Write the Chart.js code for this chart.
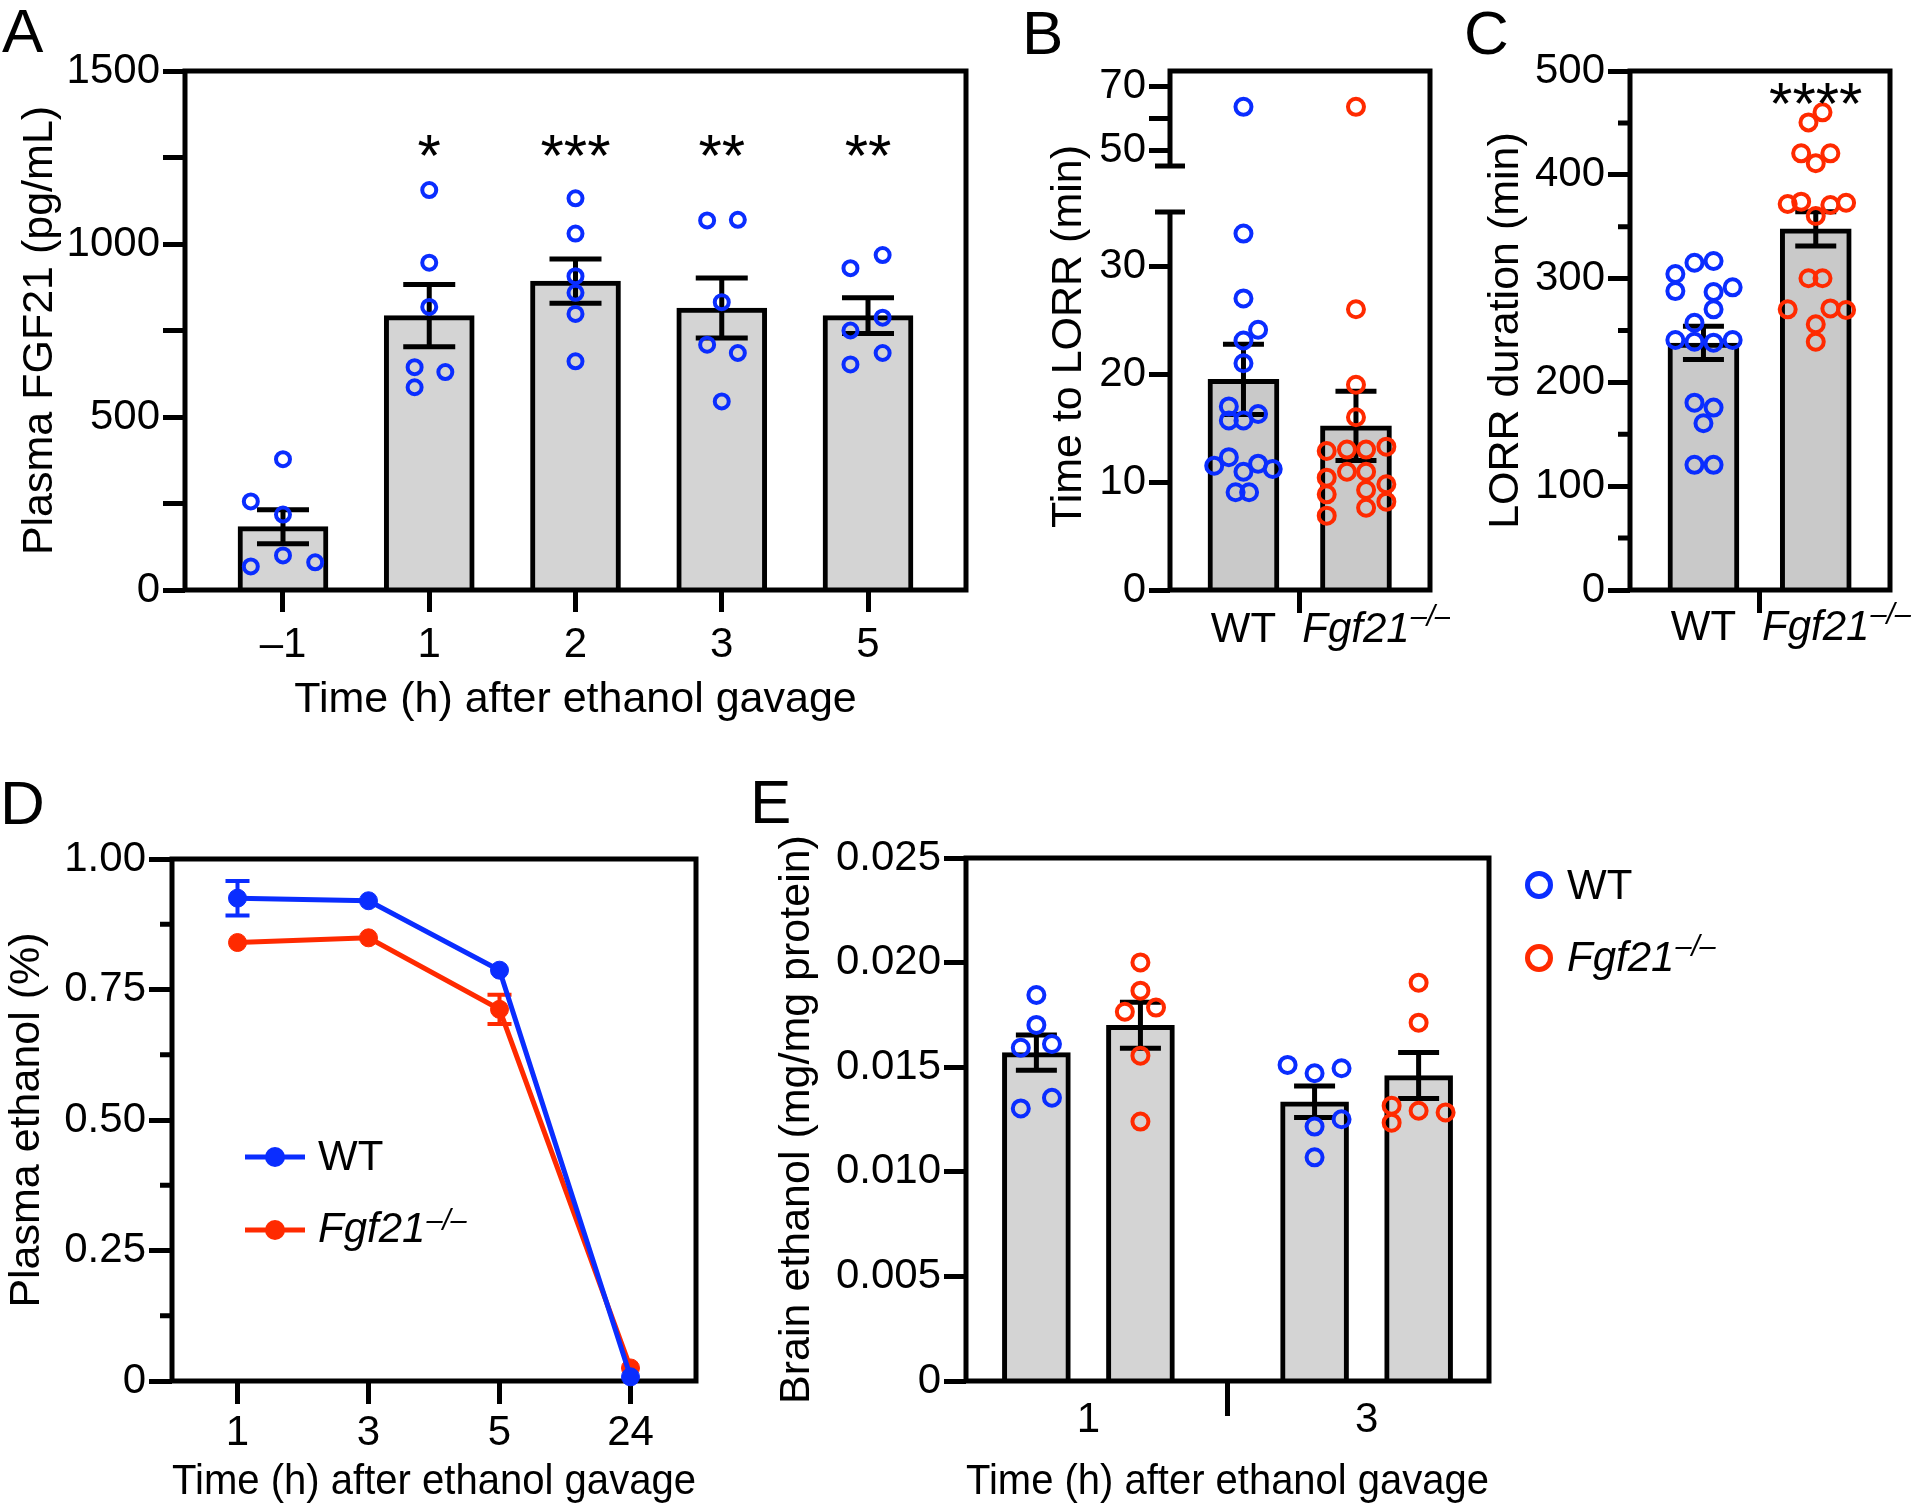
<!DOCTYPE html>
<html>
<head>
<meta charset="utf-8">
<title>FGF21 and ethanol</title>
<script src="https://cdn.jsdelivr.net/npm/chart.js@4.4.1/dist/chart.umd.min.js"></script>
<style>
  html, body { margin: 0; padding: 0; background: #fff; }
  body { position: relative; width: 1920px; height: 1508px; overflow: hidden; }
  canvas { position: absolute; }
  .letter { position: absolute; font: 62px "Liberation Sans", Arial, sans-serif; line-height: 1; color: #000; }
</style>
</head>
<body>
<div class="letter" style="left:2px;top:0px">A</div>
<div class="letter" style="left:1022px;top:2px">B</div>
<div class="letter" style="left:1464px;top:2px">C</div>
<div class="letter" style="left:0px;top:772px">D</div>
<div class="letter" style="left:750px;top:771px">E</div>

<canvas id="chartA" width="990" height="726" style="left:0;top:0"></canvas>
<canvas id="chartB" width="420" height="680" style="left:1030px;top:0"></canvas>
<canvas id="chartC" width="450" height="680" style="left:1470px;top:0"></canvas>
<canvas id="chartD" width="740" height="748" style="left:0;top:760px"></canvas>
<canvas id="chartE" width="1140" height="748" style="left:760px;top:760px"></canvas>

<script>
// === DATA ===
// A: plasma FGF21 (pg/mL) before / after gavage
const aLabels = ['\u20131', '1', '2', '3', '5'];
const aTicks = [0, 250, 500, 750, 1000, 1250, 1500];
const aMean = [183, 793, 893, 815, 793];
const aSem = [49, 90, 64, 87, 52];
const aValues = [
  [378, 256, 218, 100, 68, 80],
  [1156, 946, 818, 644, 586, 630],
  [1132, 1030, 907, 859, 798, 661],
  [1068, 1070, 832, 709, 685, 545],
  [930, 968, 750, 787, 652, 685]
];
const aJitter = [
  [0, -0.22, 0, 0, -0.22, 0.22],
  [0, 0, 0, -0.1, -0.1, 0.11],
  [0, 0, 0, 0, 0, 0],
  [-0.1, 0.11, 0, -0.1, 0.11, 0],
  [-0.12, 0.1, -0.12, 0.1, -0.12, 0.1]
];
const aStars = ['', '*', '***', '**', '**'];
const aStarLevel = 1196;

// B: time to LORR (min), broken axis
const bLowTicks = [0, 10, 20, 30];
const bHighTicks = [50, 60, 70];
const bBreak = [35, 45];
const bMean = [19.5, 15.2];
const bSem = [3.25, 3.2];
const bWT = [63.7, 33.0, 27.0, 24.1, 23.1, 21.0, 17.0, 15.7, 15.7, 16.3, 11.5, 12.3, 10.95, 11.7, 11.2, 9.05, 9.05];
const bWTJitter = [0, 0, 0, 0.13, 0, 0, -0.13, -0.13, 0, 0.13, -0.26, -0.13, 0, 0.13, 0.26, -0.07, 0.05];
const bKO = [63.7, 26.0, 19.0, 16.0, 12.87, 13.0, 13.0, 13.27, 10.95, 10.95, 10.4, 9.26, 9.79, 8.86, 8.18, 7.62, 6.88];
const bKOJitter = [0, 0, 0, 0, -0.26, -0.08, 0.09, 0.27, -0.08, 0.09, -0.26, 0.09, 0.27, -0.26, 0.27, 0.09, -0.26];

// C: LORR duration (min)
const cTicks = [0, 100, 200, 300, 400, 500];
const cMinor = [50, 150, 250, 350, 450];
const cMean = [238, 348];
const cSem = [16, 16.5];
const cWT = [304.4, 315.3, 317.0, 288.0, 287.1, 291.6, 270.4, 257.5, 240.8, 239.2, 238.3, 240.8, 180.5, 175.7, 160.6, 120.6, 120.6];
const cWTJitter = [-0.25, -0.08, 0.09, -0.25, 0.09, 0.26, 0.09, -0.08, -0.25, -0.08, 0.09, 0.26, -0.08, 0.09, 0, -0.08, 0.09];
const cKO = [460.2, 450.5, 420.7, 420.7, 411.1, 371.9, 374.1, 370.9, 373.1, 360.3, 300.3, 300.3, 270.4, 271.3, 269.7, 256, 239.2];
const cKOJitter = [0.06, -0.065, -0.13, 0.13, 0, -0.25, -0.13, 0.13, 0.27, 0, -0.065, 0.06, -0.25, 0.13, 0.27, 0, 0];
const cStars = ['', '****'];
const cStarLevel = 449;

// D: plasma ethanol (%)
const dLabels = ['1', '3', '5', '24'];
const dTicks = [0, 0.25, 0.5, 0.75, 1];
const dMinor = [0.125, 0.375, 0.625, 0.875];
const dWT = [0.925, 0.920, 0.787, 0.008];
const dWTSem = [0.033, 0, 0, 0];
const dKO = [0.840, 0.849, 0.712, 0.025];
const dKOSem = [0, 0, 0.028, 0];

// E: brain ethanol (mg/mg protein)
const eGroups = ['1', '3'];
const eTicks = [0, 0.005, 0.01, 0.015, 0.02, 0.025];
const eWTMean = [0.0157, 0.01335];
const eWTSem = [0.00084, 0.00075];
const eKOMean = [0.0170, 0.0146];
const eKOSem = [0.0011, 0.0011];
const eWT = [
  [0.01845, 0.01702, 0.01593, 0.01611, 0.01354, 0.01303],
  [0.01511, 0.01471, 0.01495, 0.01251, 0.01216, 0.01069]
];
const eWTJitter = [[0, 0, -0.056, 0.056, 0.056, -0.056], [-0.097, 0, 0.097, 0.097, 0, 0]];
const eKO = [
  [0.02001, 0.01866, 0.01765, 0.01785, 0.01555, 0.01240],
  [0.01904, 0.01713, 0.01316, 0.01292, 0.01284, 0.01235]
];
const eKOJitter = [[0, 0, -0.056, 0.056, 0, 0], [0, 0, -0.097, 0, 0.097, -0.097]];
const eDodge = 0.187;

// === STYLE ===
const FONT = '"Liberation Sans", Arial, Helvetica, sans-serif';
const BLUE = '#0a2dff';
const RED = '#ff2a00';
const BAR_LIGHT = '#d4d4d4';
const BAR_MID = '#c9c9c9';
const CLEAR = 'rgba(0,0,0,0)';
const TIME_TITLE = 'Time (h) after ethanol gavage';

Chart.defaults.font.family = FONT;
Chart.defaults.font.size = 42;
Chart.defaults.color = '#000';

// === HELPERS ===
function baseOptions(padding, scales) {
  return {
    responsive: false,
    animation: false,
    events: [],
    layout: { padding: padding },
    plugins: { legend: { display: false }, tooltip: { enabled: false } },
    scales: scales
  };
}

function axisTitle(text, padding) {
  return { display: true, text: text, font: { size: 43 }, padding: padding };
}

function yAxis(o) {
  return {
    type: 'linear', position: 'left', min: o.min, max: o.max,
    border: { display: false },
    grid: { drawOnChartArea: false, tickLength: o.tick, tickWidth: 5, tickColor: '#000' },
    ticks: { padding: 3, autoSkip: false, callback: o.fmt },
    title: o.title ? axisTitle(o.title, { top: o.titlePad, bottom: 0 }) : { display: false },
    afterBuildTicks: s => { s.ticks = o.ticks.map(v => ({ value: v })); },
    afterFit: s => { s.width = o.width; }
  };
}

function xAxis(o) {
  return {
    type: 'linear', position: 'bottom', min: o.min, max: o.max, offset: false,
    border: { display: false },
    grid: { drawOnChartArea: false, offset: false, tickLength: o.tick, tickWidth: 5, tickColor: o.tickColor || '#000' },
    ticks: { padding: o.pad, autoSkip: false, maxRotation: 0, minRotation: 0, callback: o.fmt },
    title: o.title ? axisTitle(o.title, { top: 0, bottom: 0 }) : { display: false },
    afterBuildTicks: s => { s.ticks = o.ticks.map(v => ({ value: v })); },
    afterFit: s => { s.height = o.height; }
  };
}

// only the tick between the two groups is drawn
const middleTick = c => (c.tick && c.tick.value === 0.5 ? '#000' : CLEAR);

function spread(values, jitter, centre) {
  return values.map((v, k) => ({ x: centre + jitter[k], y: v }));
}

function pointSet(label, points, color, radius, axis) {
  return {
    type: 'scatter', label: label, data: points, yAxisID: axis || 'y', order: 1, clip: false,
    showLine: false, pointStyle: 'circle', pointRadius: radius, pointBorderWidth: 4,
    pointBorderColor: color, pointBackgroundColor: CLEAR
  };
}

function barSet(xs, means, sems, fill, width) {
  return {
    type: 'bar', data: xs.map((x, i) => ({ x: x, y: means[i] })), sem: sems, yAxisID: 'y', order: 2,
    grouped: false, barThickness: width, backgroundColor: fill, borderColor: '#000', borderWidth: 5
  };
}

function lineSet(label, values, sems, color) {
  return {
    label: label, data: values, sem: sems, borderColor: color, backgroundColor: color,
    borderWidth: 5, tension: 0, clip: false,
    pointRadius: 9, pointBorderWidth: 1, pointBackgroundColor: color, pointBorderColor: color
  };
}

function drawErrors(chart, index, color, cap, width) {
  const ds = chart.data.datasets[index];
  const meta = chart.getDatasetMeta(index);
  const y = chart.scales[meta.yAxisID];
  const ctx = chart.ctx;
  ctx.save();
  ctx.strokeStyle = color;
  ctx.lineWidth = width;
  meta.data.forEach((el, j) => {
    const sem = ds.sem[j];
    if (!sem) return;
    const raw = ds.data[j];
    const mean = typeof raw === 'object' ? raw.y : raw;
    const top = y.getPixelForValue(mean + sem);
    const bottom = y.getPixelForValue(mean - sem);
    ctx.beginPath();
    ctx.moveTo(el.x, top); ctx.lineTo(el.x, bottom);
    ctx.moveTo(el.x - cap / 2, top); ctx.lineTo(el.x + cap / 2, top);
    ctx.moveTo(el.x - cap / 2, bottom); ctx.lineTo(el.x + cap / 2, bottom);
    ctx.stroke();
  });
  ctx.restore();
}

function barErrors(cap) {
  return {
    id: 'barErrors',
    afterDatasetDraw(chart, args) {
      if (chart.data.datasets[args.index].type === 'bar') drawErrors(chart, args.index, '#000', cap, 5);
    }
  };
}

function drawFrame(chart) {
  const { ctx, chartArea: a } = chart;
  ctx.save();
  ctx.strokeStyle = '#000';
  ctx.lineWidth = 5;
  ctx.strokeRect(a.left, a.top, a.right - a.left, a.bottom - a.top);
  ctx.restore();
}

// frame with a gap in the left axis (panel B)
function drawBrokenFrame(chart) {
  const { ctx, chartArea: a } = chart;
  const low = chart.scales.y.getPixelForValue(bBreak[0]);
  const high = chart.scales.yTop.getPixelForValue(bBreak[1]);
  ctx.save();
  ctx.strokeStyle = '#000';
  ctx.lineWidth = 5;
  ctx.lineJoin = 'miter';
  ctx.beginPath();
  ctx.moveTo(a.left, high);
  ctx.lineTo(a.left, a.top);
  ctx.lineTo(a.right, a.top);
  ctx.lineTo(a.right, a.bottom);
  ctx.lineTo(a.left, a.bottom);
  ctx.lineTo(a.left, low);
  ctx.stroke();
  ctx.beginPath();
  [low, high].forEach(p => { ctx.moveTo(a.left - 15, p); ctx.lineTo(a.left + 15, p); });
  ctx.stroke();
  ctx.restore();
}

function drawMinorTicks(chart, values, len) {
  const { ctx, chartArea: a } = chart;
  const y = chart.scales.y;
  ctx.save();
  ctx.strokeStyle = '#000';
  ctx.lineWidth = 5;
  ctx.beginPath();
  values.forEach(v => { const p = y.getPixelForValue(v); ctx.moveTo(a.left - len, p); ctx.lineTo(a.left, p); });
  ctx.stroke();
  ctx.restore();
}

function drawStars(chart, marks, level) {
  const ctx = chart.ctx;
  const x = chart.scales.x, y = chart.scales.y;
  ctx.save();
  ctx.fillStyle = '#000';
  ctx.font = '60px ' + FONT;
  ctx.textAlign = 'center';
  ctx.textBaseline = 'alphabetic';
  marks.forEach((m, i) => { if (m) ctx.fillText(m, x.getPixelForValue(i), y.getPixelForValue(level)); });
  ctx.restore();
}

// italic gene name with a raised "–/–"
function drawFgf(ctx, x, yMid, size, align, raise) {
  ctx.save();
  ctx.fillStyle = '#000';
  ctx.textBaseline = 'middle';
  ctx.textAlign = 'left';
  ctx.font = 'italic ' + size + 'px ' + FONT;
  const w = ctx.measureText('Fgf21').width;
  const x0 = align === 'center' ? x - w / 2 : x;
  ctx.fillText('Fgf21', x0, yMid);
  ctx.font = 'italic ' + Math.round(size * 0.68) + 'px ' + FONT;
  ctx.fillText('\u2013/\u2013', x0 + w + 1, yMid - raise);
  ctx.restore();
}

function drawFgfTick(chart) {
  const s = chart.scales.x;
  const mid = s.top + s.options.grid.tickLength + s.options.ticks.padding + 42 * 0.6;
  drawFgf(chart.ctx, s.getPixelForValue(1), mid, 42, 'center', 12);
}

function drawText(ctx, text, x, y, size) {
  ctx.save();
  ctx.fillStyle = '#000';
  ctx.font = size + 'px ' + FONT;
  ctx.textAlign = 'left';
  ctx.textBaseline = 'middle';
  ctx.fillText(text, x, y);
  ctx.restore();
}

// === A ===
const aPoints = [];
aValues.forEach((vals, i) => aPoints.push(...spread(vals, aJitter[i], i)));

new Chart(document.getElementById('chartA'), {
  type: 'bar',
  data: {
    datasets: [
      pointSet('FGF21', aPoints, BLUE, 7),
      barSet(aLabels.map((_, i) => i), aMean, aSem, BAR_LIGHT, 90)
    ]
  },
  options: baseOptions({ top: 71, right: 24, left: 0, bottom: 0 }, {
    x: xAxis({ min: -0.67, max: 4.67, ticks: aLabels.map((_, i) => i), tick: 22, pad: 8, height: 136,
      fmt: v => aLabels[v], title: TIME_TITLE }),
    y: yAxis({ min: 0, max: 1500, ticks: aTicks, tick: 22, width: 185,
      fmt: v => (v % 500 === 0 ? String(v) : ''), title: 'Plasma FGF21 (pg/mL)', titlePad: 14 })
  }),
  plugins: [barErrors(52), {
    id: 'decorA',
    afterDatasetsDraw(chart) {
      drawFrame(chart);
      drawStars(chart, aStars, aStarLevel);
    }
  }]
});

// === B ===
const bSets = [];
[[bWT, bWTJitter, 0, BLUE], [bKO, bKOJitter, 1, RED]].forEach(([vals, jit, centre, color]) => {
  const pts = spread(vals, jit, centre);
  bSets.push(pointSet('', pts.filter(p => p.y < bBreak[0]), color, 8, 'y'));
  bSets.push(pointSet('', pts.filter(p => p.y > bBreak[1]), color, 8, 'yTop'));
});
bSets.push(barSet([0, 1], bMean, bSem, BAR_MID, 71));

const bLow = yAxis({ min: 0, max: 35, ticks: bLowTicks, tick: 21, width: 140, fmt: v => String(v) });
Object.assign(bLow, { stack: 'b', stackWeight: 378, weight: 0 });
const bHigh = yAxis({ min: 30.5, max: 75, ticks: bHighTicks, tick: 21, width: 140, fmt: v => (v === 60 ? '' : String(v)) });
Object.assign(bHigh, { stack: 'b', stackWeight: 141, weight: 1 });

new Chart(document.getElementById('chartB'), {
  type: 'bar',
  data: { datasets: bSets },
  options: baseOptions({ top: 71, right: 20, left: 0, bottom: 0 }, {
    x: xAxis({ min: -0.653, max: 1.658, ticks: [0, 0.5, 1], tick: 23, pad: -8, height: 90,
      fmt: v => (v === 0 ? 'WT' : ''), tickColor: middleTick }),
    y: bLow,
    yTop: bHigh
  }),
  plugins: [barErrors(41), {
    id: 'decorB',
    afterDatasetsDraw(chart) { drawBrokenFrame(chart); },
    afterDraw(chart) {
      const a = chart.chartArea, ctx = chart.ctx;
      drawFgfTick(chart);
      ctx.save();
      ctx.translate(a.left - 101, (a.top + a.bottom) / 2 + 6);
      ctx.rotate(-Math.PI / 2);
      ctx.font = '43px ' + FONT;
      ctx.fillStyle = '#000';
      ctx.textAlign = 'center';
      ctx.textBaseline = 'middle';
      ctx.fillText('Time to LORR (min)', 0, 0);
      ctx.restore();
    }
  }]
});

// === C ===
new Chart(document.getElementById('chartC'), {
  type: 'bar',
  data: {
    datasets: [
      pointSet('WT', spread(cWT, cWTJitter, 0), BLUE, 8),
      pointSet('Fgf21', spread(cKO, cKOJitter, 1), RED, 8),
      barSet([0, 1], cMean, cSem, BAR_MID, 71)
    ]
  },
  options: baseOptions({ top: 71, right: 30, left: 0, bottom: 0 }, {
    x: xAxis({ min: -0.654, max: 1.661, ticks: [0, 0.5, 1], tick: 23, pad: -10, height: 90,
      fmt: v => (v === 0 ? 'WT' : ''), tickColor: middleTick }),
    y: yAxis({ min: 0, max: 500, ticks: cTicks, tick: 22, width: 160, fmt: v => String(v),
      title: 'LORR duration (min)', titlePad: 10 })
  }),
  plugins: [barErrors(41), {
    id: 'decorC',
    afterDatasetsDraw(chart) {
      drawFrame(chart);
      drawMinorTicks(chart, cMinor, 12);
      drawStars(chart, cStars, cStarLevel);
    },
    afterDraw(chart) { drawFgfTick(chart); }
  }]
});

// === D ===
new Chart(document.getElementById('chartD'), {
  type: 'line',
  data: {
    labels: dLabels,
    datasets: [lineSet('WT', dWT, dWTSem, BLUE), lineSet('Fgf21', dKO, dKOSem, RED)]
  },
  options: baseOptions({ top: 99, right: 44, left: 0, bottom: 0 }, {
    x: {
      type: 'category', offset: true,
      border: { display: false },
      grid: { drawOnChartArea: false, offset: false, tickLength: 23, tickWidth: 5, tickColor: '#000' },
      ticks: { padding: 4, autoSkip: false, maxRotation: 0, minRotation: 0 },
      title: axisTitle(TIME_TITLE, { top: 0, bottom: 0 }),
      afterFit: s => { s.height = 127; }
    },
    y: yAxis({ min: 0, max: 1, ticks: dTicks, tick: 23, width: 172,
      fmt: v => (v === 0 ? '0' : v.toFixed(2)), title: 'Plasma ethanol (%)', titlePad: 1 })
  }),
  plugins: [{
    id: 'decorD',
    beforeDatasetsDraw(chart) {
      drawFrame(chart);
      drawMinorTicks(chart, dMinor, 12);
      chart.data.datasets.forEach((ds, i) => drawErrors(chart, i, ds.borderColor, 24, 4));
    },
    afterDraw(chart) {
      const ctx = chart.ctx, a = chart.chartArea;
      chart.data.datasets.forEach((ds, i) => {
        const y = a.top + 298 + i * 73;
        const x1 = a.left + 73, x2 = a.left + 133;
        ctx.save();
        ctx.strokeStyle = ds.borderColor;
        ctx.fillStyle = ds.borderColor;
        ctx.lineWidth = 5;
        ctx.beginPath(); ctx.moveTo(x1, y); ctx.lineTo(x2, y); ctx.stroke();
        ctx.beginPath(); ctx.arc((x1 + x2) / 2, y, 10, 0, Math.PI * 2); ctx.fill();
        ctx.restore();
        if (ds.label === 'Fgf21') drawFgf(ctx, a.left + 146, y, 42, 'left', 8);
        else drawText(ctx, ds.label, a.left + 146, y + 1, 42);
      });
    }
  }]
});

// === E ===
const eWTPoints = [], eKOPoints = [];
eGroups.forEach((g, i) => {
  eWTPoints.push(...spread(eWT[i], eWTJitter[i], i - eDodge));
  eKOPoints.push(...spread(eKO[i], eKOJitter[i], i + eDodge));
});

new Chart(document.getElementById('chartE'), {
  type: 'bar',
  data: {
    datasets: [
      pointSet('WT', eWTPoints, BLUE, 8),
      pointSet('Fgf21', eKOPoints, RED, 8),
      barSet(eGroups.map((_, i) => i - eDodge), eWTMean, eWTSem, BAR_LIGHT, 68),
      barSet(eGroups.map((_, i) => i + eDodge), eKOMean, eKOSem, BAR_LIGHT, 68)
    ]
  },
  options: baseOptions({ top: 98, right: 411, left: 0, bottom: 0 }, {
    x: xAxis({ min: -0.44, max: 1.44, ticks: [0, 0.5, 1], tick: 35, pad: -21, height: 127,
      fmt: v => (v === 0.5 ? '' : eGroups[v]), tickColor: middleTick, title: TIME_TITLE }),
    y: yAxis({ min: 0, max: 0.025, ticks: eTicks, tick: 22, width: 206,
      fmt: v => (v === 0 ? '0' : v.toFixed(3)), title: 'Brain ethanol (mg/mg protein)', titlePad: 11 })
  }),
  plugins: [barErrors(41), {
    id: 'decorE',
    afterDatasetsDraw(chart) { drawFrame(chart); },
    afterDraw(chart) {
      const ctx = chart.ctx, a = chart.chartArea;
      chart.data.datasets.filter(ds => ds.type === 'scatter').forEach((ds, i) => {
        const y = a.top + 27 + i * 73;
        ctx.save();
        ctx.strokeStyle = ds.pointBorderColor;
        ctx.lineWidth = 5;
        ctx.beginPath(); ctx.arc(a.right + 50, y, 11.5, 0, Math.PI * 2); ctx.stroke();
        ctx.restore();
        if (ds.label === 'Fgf21') drawFgf(ctx, a.right + 78, y + 1, 42, 'left', 11);
        else drawText(ctx, ds.label, a.right + 78, y + 2, 42);
      });
    }
  }]
});
</script>
</body>
</html>
